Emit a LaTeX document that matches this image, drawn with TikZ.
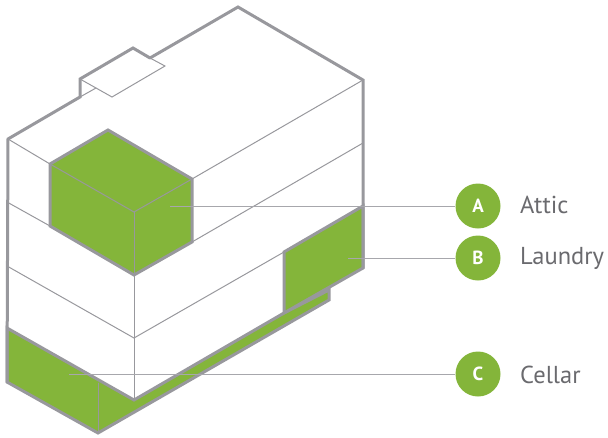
\documentclass[tikz,border=0pt]{standalone}
\usepackage{fontspec}
\usepackage{tkz-euclide}
\setmainfont{PT Sans}
\definecolor{roomgreen}{HTML}{84B53A}
\definecolor{wallgrey}{HTML}{98989D}
\definecolor{labelgrey}{HTML}{6A6A6E}
\tikzset{
	wall/.style={draw=wallgrey, line width=3pt, line join=miter},
	floorline/.style={draw=wallgrey, line width=1pt},
	leader/.style={draw=wallgrey!85, line width=1pt},
	badge/.style={circle, fill=roomgreen, minimum size=45pt, inner sep=0pt, text=white, font=\bfseries\fontsize{19}{19}\selectfont},
	roomname/.style={anchor=base west, inner sep=0pt, text=labelgrey, font=\fontsize{24.5}{24.5}\selectfont}
}

\begin{document}
\begin{tikzpicture}[x=1pt, y=-1pt]
	\useasboundingbox (0,0) rectangle (608,437);

	%OUTER SHELL
	\tkzDefPoint(238,7){Top}
	\tkzDefPoint(363,80){RoofR}
	\tkzDefPoint(363,268){BaseR}
	\tkzDefPoint(329,290){StepA}
	\tkzDefPoint(329,300){StepB}
	\tkzDefPoint(98,433){Low}
	\tkzDefPoint(7,382){BaseL}
	\tkzDefPoint(7,328){CellarL}
	\tkzDefPoint(8,139){RoofL}
	\tkzDefPoint(80,97){HatchA}
	\tkzDefPoint(80,79){HatchB}
	\tkzDefPoint(133,48){HatchC}
	\tkzDefPoint(150,58){HatchD}
	\tkzDefPoint(165,66){HatchE}
	\tkzDefPoint(112,97){HatchF}
	\tkzDefPoint(96,88){HatchG}

	%ATTIC
	\tkzDefPoint(108,130){AtticT}
	\tkzDefPoint(192,179){AtticR}
	\tkzDefPoint(192,242){AtticS}
	\tkzDefPoint(134,275){AtticB}
	\tkzDefPoint(50,226){AtticW}
	\tkzDefPoint(50,164){AtticL}
	\tkzDefPoint(134,212){AtticC}

	%LAUNDRY
	\tkzDefPoint(284,252){LaundryL}
	\tkzDefPoint(363,206){LaundryR}
	\tkzDefPoint(284,313){LaundryB}

	%CELLAR
	\tkzDefPoint(134,400){CellarC}
	\tkzDefPoint(98,383){CellarM}

	%FLOORS
	\tkzDefPoint(7,202){FloorA}
	\tkzDefPoint(363,143){FloorB}
	\tkzDefPoint(7,266){FloorC}
	\tkzDefPoint(134,338){FloorD}

	\tkzDrawPolygon[wall, fill=roomgreen](CellarL,CellarC,LaundryB,StepA,StepB,Low,BaseL)
	\tkzDrawPolygon[wall, fill=roomgreen](LaundryL,LaundryR,BaseR,LaundryB)
	\tkzDrawPolygon[wall, fill=roomgreen](AtticT,AtticR,AtticS,AtticB,AtticW,AtticL)

	\tkzDrawSegments[floorline](RoofL,AtticL AtticL,AtticC AtticC,AtticR AtticC,AtticB AtticR,RoofR)
	\tkzDrawSegments[floorline](FloorA,AtticW AtticS,FloorB FloorC,FloorD FloorD,LaundryL)
	\tkzDrawSegments[floorline](AtticB,CellarC CellarM,Low)
	\tkzDrawSegments[floorline](HatchB,HatchF HatchF,HatchE HatchE,HatchD HatchG,HatchA)

	\tkzDrawPolySeg[wall](HatchD,Top,RoofR,BaseR)
	\tkzDrawPolySeg[wall](BaseL,RoofL,HatchA,HatchB,HatchC,HatchD)

	%LABELS
	\node[badge] (attic) at (478,206) {A};
	\node[badge] (laundry) at (478,258) {B};
	\node[badge] (cellar) at (478,374) {C};
	\node[roomname] (atticname) at (520,213) {Attic};
	\node[roomname] (laundryname) at (520,264) {Laundry};
	\node[roomname] (cellarname) at (520,383) {Cellar};

	\tkzDefPoint(170,206){AtticEnd}
	\tkzDefPoint(348,258){LaundryEnd}
	\tkzDefPoint(69,374){CellarEnd}
	\draw[leader] (AtticEnd) -- (attic);
	\draw[leader] (LaundryEnd) -- (laundry);
	\draw[leader] (CellarEnd) -- (cellar);
\end{tikzpicture}
\end{document}
